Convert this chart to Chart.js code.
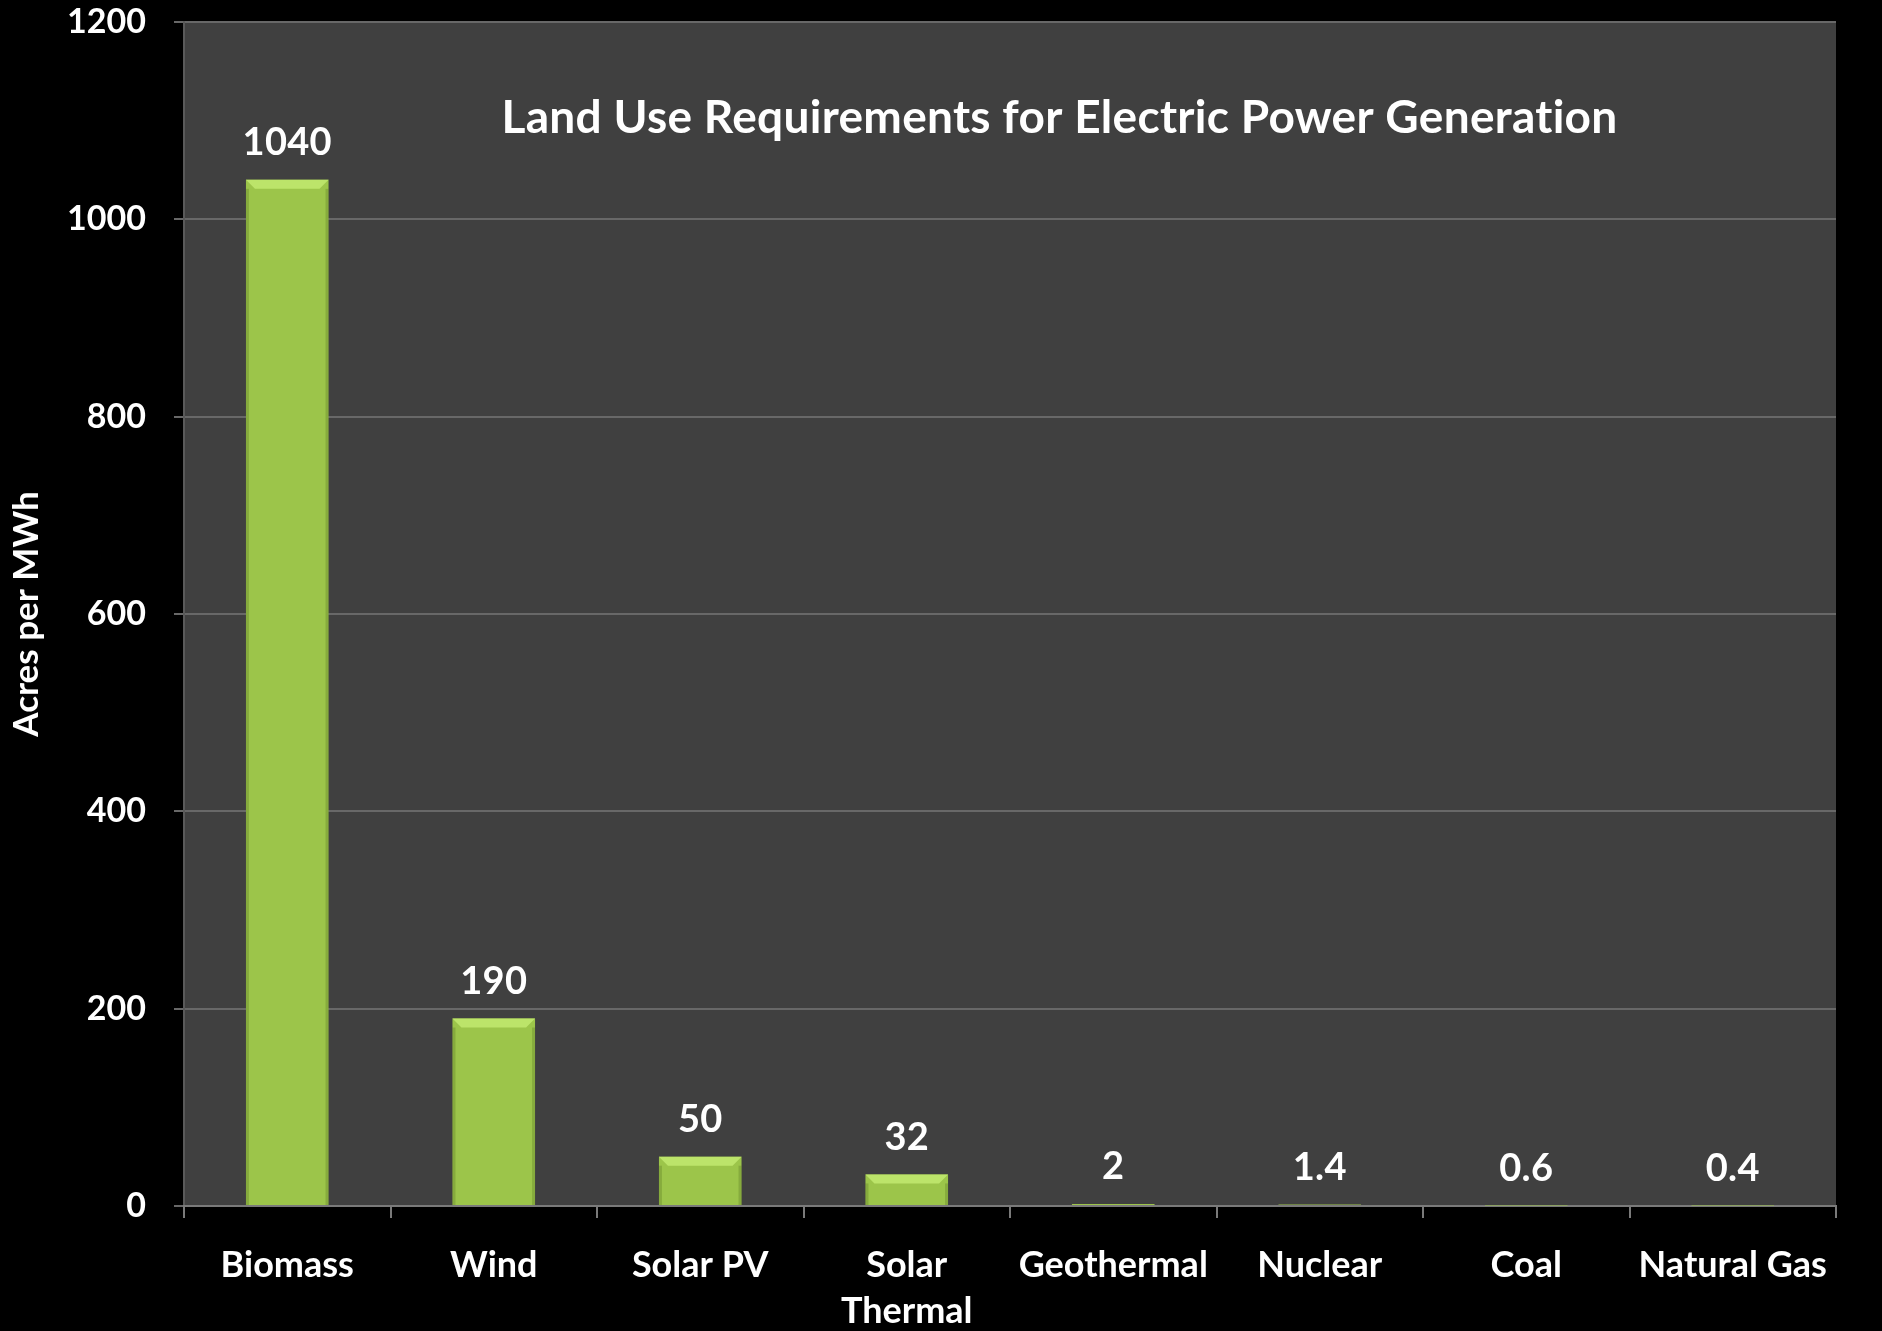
<!DOCTYPE html>
<html>
<head>
<meta charset="utf-8">
<title>Land Use Requirements for Electric Power Generation</title>
<script src="https://cdn.jsdelivr.net/npm/chart.js@4/dist/chart.umd.min.js"></script>
<style>
  html, body { margin: 0; padding: 0; background: #000; }
  #wrap { width: 1882px; height: 1331px; }
</style>
</head>
<body>
<div id="wrap"><canvas id="chart" width="1882" height="1331"></canvas></div>
<script>
// Land area needed per unit of generation, by source
const categories = ['Biomass', 'Wind', 'Solar PV', ['Solar', 'Thermal'], 'Geothermal', 'Nuclear', 'Coal', 'Natural Gas'];
const acresPerMWh = [1040, 190, 50, 32, 2, 1.4, 0.6, 0.4];
const valueLabels = ['1040', '190', '50', '32', '2', '1.4', '0.6', '0.4'];
const yTickValues = [0, 200, 400, 600, 800, 1000, 1200];
const chartTitle = 'Land Use Requirements for Electric Power Generation';
const yAxisTitle = 'Acres per MWh';

const FONT = 'Lato, "Open Sans", sans-serif';

// dark panel behind the plot area
const panelBackground = {
  id: 'panelBackground',
  beforeDraw(chart) {
    const { ctx, chartArea: a } = chart;
    ctx.save();
    ctx.fillStyle = '#404040';
    ctx.fillRect(a.left, a.top, a.right - a.left, a.bottom - a.top);
    ctx.restore();
  }
};

// bevelled top edge on each bar, value labels above, and the in-panel title
const barDecor = {
  id: 'barDecor',
  afterDatasetsDraw(chart) {
    const { ctx, chartArea: a } = chart;
    const meta = chart.getDatasetMeta(0);
    ctx.save();
    if ('letterSpacing' in ctx) ctx.letterSpacing = '0.3px';
    meta.data.forEach((bar, i) => {
      const half = bar.width / 2;
      const left = bar.x - half, right = bar.x + half;
      const h = bar.base - bar.y;
      const b = Math.min(9, h / 2);
      if (h > 3) {
        ctx.fillStyle = '#bce46a';
        ctx.beginPath();
        ctx.moveTo(left, bar.y);
        ctx.lineTo(right, bar.y);
        ctx.lineTo(right - b, bar.y + b);
        ctx.lineTo(left + b, bar.y + b);
        ctx.closePath();
        ctx.fill();
        // subtle shaded side edges
        ctx.fillStyle = 'rgba(60,80,20,0.22)';
        ctx.fillRect(left, bar.y + b, 3, h - b);
        ctx.fillRect(right - 3, bar.y + b, 3, h - b);
      }
      ctx.fillStyle = '#ffffff';
      ctx.font = 'bold 38px ' + FONT;
      ctx.textAlign = 'center';
      ctx.textBaseline = 'middle';
      ctx.fillText(valueLabels[i], bar.x, bar.y - 37);
    });
    ctx.fillStyle = '#ffffff';
    ctx.font = 'bold 46px ' + FONT;
    ctx.textAlign = 'center';
    ctx.textBaseline = 'middle';
    ctx.fillText(chartTitle, a.left + (a.right - a.left) * 0.53, a.top + 96);
    ctx.restore();
  }
};

function barGradient(context) {
  const chart = context.chart;
  const el = context.element;
  if (!chart.chartArea || !el) return '#9cc54a';
  const top = el.y, base = el.base;
  if (!isFinite(top) || !isFinite(base) || base - top < 1) return '#9cc54a';
  const g = chart.ctx.createLinearGradient(0, top, 0, base);
  g.addColorStop(0, '#a9d34f');
  g.addColorStop(1, '#84a542');
  return g;
}

new Chart(document.getElementById('chart'), {
  type: 'bar',
  data: {
    labels: categories,
    datasets: [{
      data: acresPerMWh,
      backgroundColor: barGradient,
      borderWidth: 0,
      barPercentage: 0.4,
      categoryPercentage: 1.0
    }]
  },
  options: {
    responsive: false,
    animation: false,
    layout: { padding: { top: 0, right: 46, left: 0, bottom: 0 } },
    plugins: {
      legend: { display: false },
      tooltip: { enabled: false },
      title: { display: false }
    },
    scales: {
      y: {
        min: 0,
        max: 1200,
        afterBuildTicks(scale) {
          scale.ticks = yTickValues.map(v => ({ value: v }));
        },
        afterFit(scale) {
          scale.width = 184;
          scale.paddingTop = 22;
          scale.paddingBottom = 22;
        },
        ticks: {
          color: '#ffffff',
          font: { family: FONT, size: 34, weight: 'bold' },
          padding: 28,
          callback: (v) => String(v)
        },
        grid: {
          color: '#686868',
          lineWidth: 2,
          tickLength: 10,
          drawTicks: true
        },
        border: { display: true, color: '#5a5a5a', width: 2 },
        title: {
          display: true,
          text: yAxisTitle,
          color: '#ffffff',
          font: { family: FONT, size: 35, weight: 'bold' },
          padding: { top: 6, bottom: 0 }
        }
      },
      x: {
        afterFit(scale) { scale.height = 125; },
        ticks: {
          color: '#ffffff',
          font: { family: FONT, size: 36, weight: 'bold', lineHeight: 1.27 },
          padding: 25,
          maxRotation: 0,
          autoSkip: false
        },
        grid: {
          offset: true,
          drawOnChartArea: false,
          drawTicks: true,
          tickLength: 12,
          color: '#7a7a7a',
          lineWidth: 2
        },
        border: { display: true, color: '#7a7a7a', width: 2 }
      }
    }
  },
  plugins: [panelBackground, barDecor]
});
</script>
</body>
</html>
